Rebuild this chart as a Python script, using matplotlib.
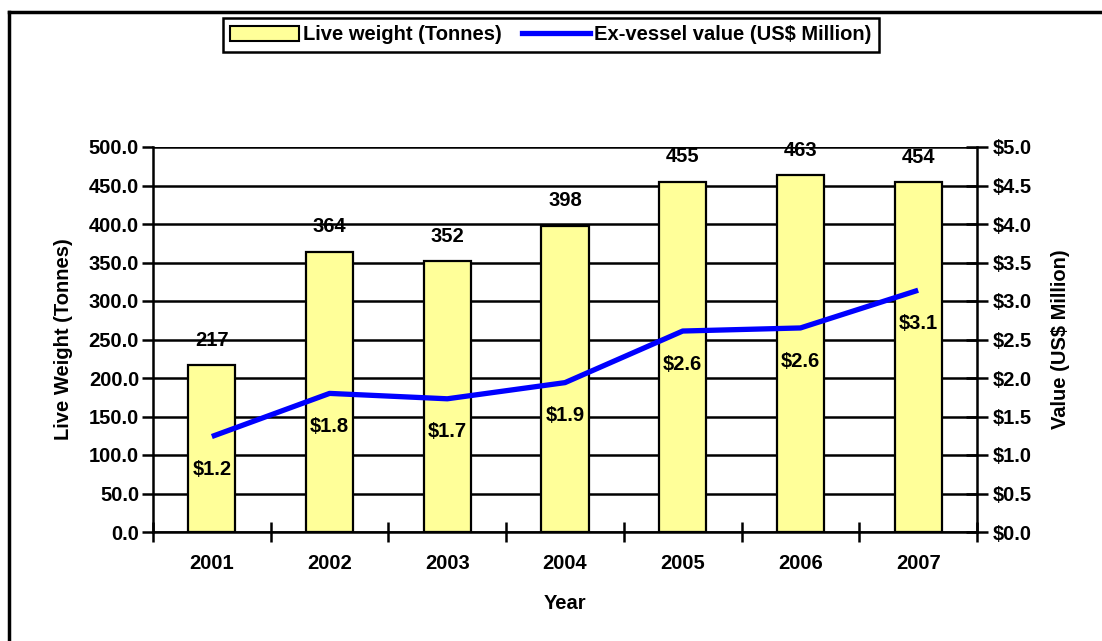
import matplotlib
matplotlib.use("Agg")
import matplotlib.pyplot as plt
from matplotlib.lines import Line2D
from matplotlib.patches import Patch

plt.rcParams['font.family'] = ['Liberation Sans', 'DejaVu Sans']
plt.rcParams['font.weight'] = 'bold'

years = ["2001", "2002", "2003", "2004", "2005", "2006", "2007"]
live_weight = [217, 364, 352, 398, 455, 463, 454]
value_musd = [1.24, 1.80, 1.73, 1.94, 2.61, 2.65, 3.14]
value_labels = ["$1.2", "$1.8", "$1.7", "$1.9", "$2.6", "$2.6", "$3.1"]
left_ticks = [0, 50, 100, 150, 200, 250, 300, 350, 400, 450, 500]
right_ticks = [0, 0.5, 1.0, 1.5, 2.0, 2.5, 3.0, 3.5, 4.0, 4.5, 5.0]

FS = 14.5
W, H = 1102, 641
fig = plt.figure(figsize=(W / 100, H / 100), dpi=100)
fig.patch.set_facecolor('white')

# outer frame (left and top edges visible)
fig.add_artist(Line2D([9 / W, 9 / W], [0, 1 - 12 / H], transform=fig.transFigure, color='black', lw=2.5))
fig.add_artist(Line2D([9 / W, 1], [1 - 12 / H, 1 - 12 / H], transform=fig.transFigure, color='black', lw=2.5))

L, R, T, B = 153, 977, 147, 532
ax = fig.add_axes([L / W, 1 - B / H, (R - L) / W, (B - T) / H])
x = list(range(len(years)))

ax.set_ylim(0, 500)
ax.set_xlim(-0.5, len(years) - 0.5)
for v in left_ticks:
    ax.axhline(v, color='black', lw=1.8, zorder=1)
bars = ax.bar(x, live_weight, width=0.40, color='#FFFF99', edgecolor='black', lw=1.6, zorder=2)
for xi, v in zip(x, live_weight):
    ax.annotate(f"{v}", (xi, v), xytext=(0, 11), textcoords='offset points',
                ha='center', va='bottom', fontsize=FS, fontweight='bold', zorder=5)

ax.set_yticks(left_ticks)
ax.set_yticklabels([f"{v:.1f}" for v in left_ticks], fontsize=FS, fontweight='bold')
ax.tick_params(axis='y', direction='out', length=8, width=1.8, pad=2)
ax.set_xticks([i - 0.5 for i in range(len(years) + 1)])
ax.set_xticklabels([])
ax.set_xticks(x, minor=True)
ax.set_xticklabels(years, minor=True, fontsize=FS, fontweight='bold')
ax.tick_params(axis='x', which='major', direction='inout', length=14, width=1.8)
ax.tick_params(axis='x', which='minor', length=0, pad=16)
for s in ['top', 'right']:
    ax.spines[s].set_visible(False)
for s in ['left', 'bottom']:
    ax.spines[s].set_linewidth(1.8)
ax.set_ylabel("Live Weight (Tonnes)", fontsize=FS, fontweight='bold', labelpad=11)
ax.set_xlabel("Year", fontsize=FS, fontweight='bold', labelpad=15)

ax2 = ax.twinx()
ax2.set_ylim(0, 5)
ax2.plot(x, value_musd, color='#0000FF', lw=3.8, zorder=3, solid_capstyle='butt')
for xi, v, lab in zip(x, value_musd, value_labels):
    ax2.annotate(lab, (xi, v), xytext=(0, -17), textcoords='offset points',
                 ha='center', va='top', fontsize=FS, fontweight='bold')
ax2.set_yticks(right_ticks)
ax2.set_yticklabels([f"${v:.1f}" for v in right_ticks], fontsize=FS, fontweight='bold')
ax2.tick_params(axis='y', direction='inout', length=16, width=1.8, pad=3)
for s in ['top', 'left', 'bottom']:
    ax2.spines[s].set_visible(False)
ax2.spines['right'].set_linewidth(1.8)
ax2.set_ylabel("Value (US$ Million)", fontsize=FS, fontweight='bold', labelpad=14)

handles = [Patch(facecolor='#FFFF99', edgecolor='black', lw=1.5),
           Line2D([0], [0], color='#0000FF', lw=3.8)]
leg = fig.legend(handles, ["Live weight (Tonnes)", "Ex-vessel value (US$ Million)"],
                 loc='center', bbox_to_anchor=(551 / W, 1 - 35 / H), ncol=2,
                 fancybox=False, framealpha=1, edgecolor='black',
                 prop={'weight': 'bold', 'size': FS}, handlelength=3.4,
                 handletextpad=0.2, columnspacing=1.0, borderpad=0.35)
leg.get_frame().set_linewidth(1.8)

fig.savefig("out.png", dpi=100, facecolor='white')
